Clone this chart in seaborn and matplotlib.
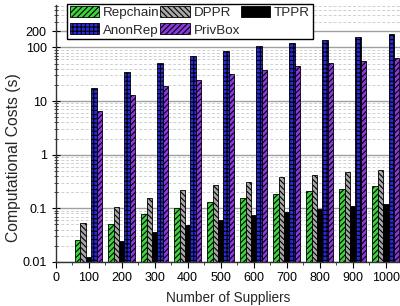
import pandas as pd
import matplotlib
matplotlib.use("Agg")
import matplotlib.pyplot as plt
import seaborn as sns
from matplotlib.ticker import FixedLocator, LogLocator, NullFormatter

# data
suppliers = [100, 200, 300, 400, 500, 600, 700, 800, 900, 1000]
repchain = [0.026, 0.052, 0.077, 0.103, 0.129, 0.158, 0.182, 0.209, 0.231, 0.263]
dppr = [0.053, 0.106, 0.158, 0.215, 0.267, 0.316, 0.38, 0.426, 0.484, 0.527]
tppr = [0.0125, 0.0248, 0.036, 0.048, 0.06, 0.074, 0.084, 0.096, 0.109, 0.122]
anonrep = [17.2, 34.9, 52, 70, 86.8, 104, 122, 139, 155, 174]
privbox = [6.5, 12.7, 19, 25, 32, 38.6, 44.5, 51, 56.6, 63]

schemes = ['Repchain', 'DPPR', 'TPPR', 'AnonRep', 'PrivBox']
colors = ['#22ee22', '#a8a8a8', '#000000', '#0a0aff', '#8a1aff']
hatches = ['//////', '\\\\\\\\\\\\', '', '++++', '//////']

rows = []
for name, vals in zip(schemes, [repchain, dppr, tppr, anonrep, privbox]):
    for n, v in zip(suppliers, vals):
        rows.append({'n': n, 'cost': v, 'scheme': name})
df = pd.DataFrame(rows)

sns.set_style('ticks')
plt.rcParams['font.family'] = ['Liberation Sans', 'DejaVu Sans']
plt.rcParams['hatch.linewidth'] = 0.8

fig = plt.figure(figsize=(4.0, 3.06), dpi=100)
ax = fig.add_axes([0.139, 0.144, 0.861, 0.840])
ax.set_yscale('log')

sns.barplot(data=df, x='n', y='cost', hue='scheme', hue_order=schemes,
            palette=colors, native_scale=True, width=0.82,
            edgecolor='black', linewidth=0.6, ax=ax)

for cont, h in zip(ax.containers, hatches):
    for p in cont:
        p.set_hatch(h)

ax.set_xlim(0, 1043)
ax.set_ylim(0.01, 620)
ax.set_xticks(range(0, 1001, 100))
ax.set_xticklabels([str(v) for v in range(0, 1001, 100)])
ax.xaxis.set_minor_locator(FixedLocator(range(50, 1001, 100)))

ax.yaxis.set_major_locator(FixedLocator([0.01, 0.1, 1, 10, 100, 200]))
ax.set_yticklabels(['0.01', '0.1', '1', '10', '100', '200'])
ax.yaxis.set_minor_locator(LogLocator(base=10, subs=range(2, 10), numticks=20))
ax.yaxis.set_minor_formatter(NullFormatter())

ax.grid(True, which='major', axis='y', color='#a0a0a0', linewidth=1.0)
ax.grid(True, which='minor', axis='y', color='#d0d0d0', linewidth=0.7,
        linestyle=(0, (3, 2)))
ax.set_axisbelow(True)

ax.tick_params(axis='both', labelsize=9, colors='black', width=0.8)
ax.tick_params(axis='y', which='both', direction='inout')
ax.tick_params(axis='y', which='major', length=6)
ax.tick_params(axis='y', which='minor', length=3, width=0.6)
ax.tick_params(axis='x', which='major', direction='out', length=4)
ax.tick_params(axis='x', which='minor', direction='out', length=2.5, width=0.6)

for s in ['top', 'right']:
    ax.spines[s].set_visible(False)
for s in ['left', 'bottom']:
    ax.spines[s].set_color('#333333')
    ax.spines[s].set_linewidth(1.0)

ax.set_xlabel('Number of Suppliers', fontsize=9.8, labelpad=5)
ax.set_ylabel('Computational Costs (s)', fontsize=11.3)
ax.yaxis.set_label_coords(-0.10, 0.405)

handles, labels = ax.get_legend_handles_labels()
order = [0, 3, 1, 4, 2]
leg = ax.legend([handles[i] for i in order], [labels[i] for i in order],
                ncol=3, loc='upper left', bbox_to_anchor=(0.033, 1.005),
                borderaxespad=0, fontsize=9.6, frameon=True, fancybox=False,
                handlelength=2.2, handleheight=0.9, columnspacing=0.05,
                handletextpad=0.3, labelspacing=0.3, borderpad=0.2)
leg.get_frame().set_edgecolor('black')
leg.get_frame().set_linewidth(1.0)
leg.get_frame().set_alpha(1)
for hd, i in zip(leg.legend_handles, order):
    hd.set_hatch(hatches[i])
    hd.set_edgecolor('black')
    hd.set_linewidth(0.6)

fig.savefig('out.png', dpi=100)
